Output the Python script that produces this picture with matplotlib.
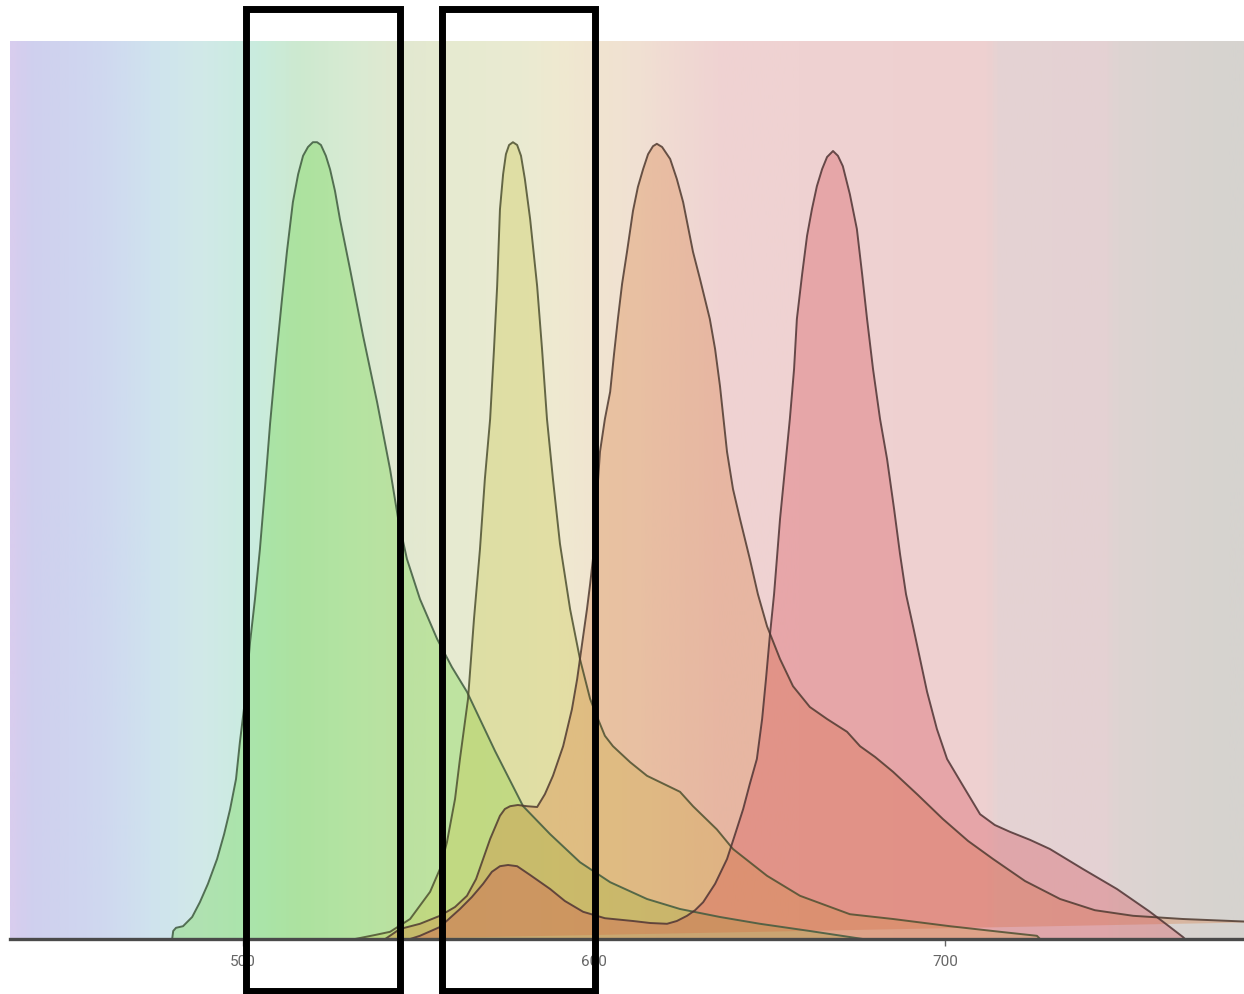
import numpy as np
import matplotlib
matplotlib.use("Agg")
import matplotlib.pyplot as plt
from matplotlib.colors import LinearSegmentedColormap
from matplotlib.patches import Rectangle
import matplotlib.transforms as mtransforms

# wavelength range (nm)
x_min, x_max = 433.6, 785.2
y_max = 112.25

# background spectrum colour stops
bg_nm = [433.6, 439.3, 459.3, 473.5, 487.7, 502.0, 516.2, 530.5, 544.7, 559.0,
         578.9, 590.3, 601.7, 613.1, 624.5, 635.9, 658.7, 712.8, 715.7, 747.0,
         749.9, 781.2, 785.2]
bg_col = ['#d8cdee', '#cfd0ee', '#cfd8f0', '#cfe3ee', '#d1e9e8', '#c9ecdf', '#cde9cf',
          '#d8ebd3', '#e2e8d0', '#e6ead0', '#eaebd2', '#efe9d0', '#f1e4d0', '#f0e0d3',
          '#f0d9d2', '#efd3d2', '#efd2d2', '#eed0d0', '#e5d3d3', '#e4d1d3', '#ded4d2',
          '#d6d3cf', '#d6d3cf']

# emission spectra (wavelength nm, relative intensity)
green_nm = [479.8, 480.1, 480.9, 482.9, 485.5, 487.7, 490.0, 492.6, 494.6, 496.3,
            498.0, 499.1, 500.6, 502.0, 503.4, 504.8, 506.3, 507.7, 509.4, 511.1,
            512.5, 514.2, 515.7, 517.1, 518.5, 519.9, 521.1, 522.2, 523.6, 524.8,
            526.2, 527.6, 530.5, 534.2, 538.2, 541.9, 544.2, 546.7, 550.4, 555.3,
            559.5, 563.8, 571.8, 579.8, 587.5, 596.0, 604.6, 615.1, 624.5, 635.9,
            647.3, 661.5, 676.6]
green_y = [0, 1.0, 1.4, 1.6, 2.75, 4.6, 6.9, 10.0, 13.1, 16.2,
           20.0, 24.6, 30.0, 37.1, 42.5, 48.7, 56.6, 64.4, 72.5, 80.0,
           85.9, 92.1, 95.6, 97.9, 99.0, 99.6, 99.6, 99.25, 97.9, 96.2,
           93.5, 90.0, 83.7, 75.4, 67.1, 58.7, 52.5, 47.5, 42.5, 37.5,
           34.0, 30.9, 23.5, 16.6, 13.1, 9.6, 7.1, 5.0, 3.75, 2.75,
           1.9, 1.0, 0]

yellow_nm = [531.9, 537.6, 541.9, 547.6, 553.3, 556.1, 558.1, 560.4, 561.8, 564.1,
             565.8, 567.5, 568.9, 570.4, 571.5, 572.4, 573.2, 574.1, 574.9, 575.8,
             576.9, 578.1, 579.2, 580.3, 581.8, 583.8, 585.2, 586.6, 588.3, 590.3,
             593.2, 596.0, 598.9, 600.9, 603.1, 605.4, 610.3, 615.1, 624.5, 628.2,
             635.0, 639.6, 649.3, 658.7, 672.9, 685.2, 701.4, 715.7, 726.2, 727.1]
yellow_y = [0, 0.5, 0.9, 2.5, 5.9, 8.75, 12.1, 17.5, 22.5, 30.0,
            40.0, 48.7, 57.5, 65.0, 73.7, 81.6, 91.2, 95.6, 98.1, 99.25,
            99.6, 99.25, 97.9, 95.0, 90.0, 81.6, 73.7, 65.0, 57.5, 49.4,
            41.2, 35.0, 30.0, 27.75, 25.4, 24.1, 22.1, 20.4, 18.4, 16.6,
            13.7, 11.25, 7.9, 5.4, 3.1, 2.5, 1.6, 0.9, 0.4, 0]

orange_nm = [540.5, 544.7, 550.4, 556.1, 560.4, 563.8, 566.4, 568.4, 570.4, 573.2,
             574.6, 576.1, 578.3, 580.9, 583.8, 586.0, 588.3, 591.2, 593.7, 595.2,
             596.6, 598.0, 598.9, 599.7, 600.6, 601.7, 603.1, 604.6, 605.7, 606.8,
             608.0, 609.4, 611.1, 612.5, 614.0, 615.4, 616.8, 617.9, 619.4, 621.7,
             623.6, 625.4, 628.2, 630.2, 633.0, 634.5, 635.9, 637.9, 639.6, 641.6,
             644.4, 646.7, 649.3, 653.0, 656.7, 661.5, 666.4, 672.1, 675.8, 680.1,
             685.2, 692.3, 699.4, 706.6, 713.7, 722.8, 732.8, 742.7, 753.6, 767.8,
             790.0]
orange_y = [0, 1.25, 1.9, 2.9, 4.0, 5.4, 7.5, 10.0, 12.5, 15.4,
            16.25, 16.6, 16.75, 16.6, 16.5, 18.1, 20.4, 24.1, 28.7, 32.5,
            36.9, 41.25, 44.4, 47.5, 53.75, 60.9, 65.0, 68.4, 73.1, 77.5,
            81.9, 85.9, 91.0, 94.0, 96.25, 98.1, 99.1, 99.4, 99.0, 97.5,
            95.0, 92.1, 85.9, 82.5, 77.5, 73.75, 69.1, 60.9, 56.25, 52.5,
            47.5, 43.1, 39.1, 35.0, 31.6, 29.0, 27.5, 25.9, 24.1, 22.75,
            20.9, 18.0, 15.0, 12.25, 10.0, 7.25, 5.0, 3.6, 2.9, 2.5,
            2.1]

red_nm = [547.6, 550.4, 556.1, 561.8, 565.2, 568.4, 570.9, 573.2, 575.5, 578.1,
          581.8, 587.5, 591.7, 596.9, 603.1, 611.1, 616.0, 620.8, 623.6, 626.5,
          628.8, 631.1, 634.5, 637.9, 640.2, 642.5, 644.4, 646.4, 647.9, 649.0,
          650.1, 651.3, 652.1, 653.0, 654.4, 655.8, 657.0, 657.8, 659.3, 660.7,
          662.1, 663.5, 665.0, 666.4, 668.1, 669.5, 670.9, 672.9, 674.9, 676.4,
          677.8, 679.5, 681.5, 683.5, 685.5, 687.2, 688.9, 690.9, 692.9, 694.9,
          697.7, 700.6, 704.8, 710.0, 714.2, 718.5, 724.2, 729.9, 739.3, 749.0,
          758.4, 764.1, 767.8, 768.4]
red_y = [0, 0.4, 1.5, 3.75, 5.25, 6.9, 8.4, 9.1, 9.25, 9.1,
         8.0, 6.25, 4.75, 3.4, 2.6, 2.25, 2.0, 1.9, 2.25, 2.9,
         3.6, 4.6, 6.9, 10.0, 13.1, 16.25, 19.4, 22.5, 27.5, 32.5,
         37.9, 43.1, 47.5, 52.5, 58.75, 65.0, 71.25, 77.5, 83.1, 87.9,
         91.25, 94.1, 96.25, 97.75, 98.5, 97.9, 96.6, 93.1, 88.75, 83.1,
         77.5, 71.25, 65.0, 60.0, 53.75, 48.1, 43.1, 39.1, 35.0, 30.9,
         26.25, 22.5, 19.4, 15.6, 14.25, 13.4, 12.4, 11.25, 8.75, 6.25,
         3.4, 1.5, 0.25, 0]

spectra = [
    (green_nm, green_y, '#63d432', '#3f5a3f'),
    (yellow_nm, yellow_y, '#c8c53f', '#4d5030'),
    (orange_nm, orange_y, '#d67635', '#4f3a30'),
    (red_nm, red_y, '#d6434c', '#4f3434'),
]

# filter windows (nm)
filters = [(500.9, 544.7), (556.7, 600.3)]

fig = plt.figure(figsize=(12.44, 9.95), dpi=100)
ax = fig.add_axes([10 / 1244, 55 / 995, 1234 / 1244, 898 / 995])

pos = [(v - bg_nm[0]) / (bg_nm[-1] - bg_nm[0]) for v in bg_nm]
cmap = LinearSegmentedColormap.from_list('spec', list(zip(pos, bg_col)))
grad = np.linspace(0, 1, 600).reshape(1, -1)
ax.imshow(grad, extent=[x_min, x_max, 0, y_max], aspect='auto', cmap=cmap,
          interpolation='bilinear', zorder=0)

for xs, ys, fc, ec in spectra:
    ax.fill(xs, ys, facecolor=fc, alpha=0.3, edgecolor='none', zorder=2)
    ax.plot(xs, ys, color=ec, lw=1.4, alpha=0.85, zorder=3,
            solid_joinstyle='round')

trans = mtransforms.blended_transform_factory(ax.transData, ax.transAxes)
for lo, hi in filters:
    ax.add_patch(Rectangle((lo, -0.058), hi - lo, 1.094, transform=trans,
                           fill=False, edgecolor='black', lw=5, clip_on=False,
                           zorder=10))

ax.set_xlim(x_min, x_max)
ax.set_ylim(0, y_max)
ax.set_xticks([500, 600, 700])
ax.set_yticks([])
for s in ['left', 'top', 'right']:
    ax.spines[s].set_visible(False)
ax.spines['bottom'].set_linewidth(2.4)
ax.spines['bottom'].set_color('#4a4a4a')
ax.spines['bottom'].set_zorder(5)
ax.tick_params(axis='x', length=5, width=1, color='#666666', labelcolor='#666666',
               labelsize=11, pad=6)
for lab in ax.get_xticklabels():
    lab.set_family('Roboto')

fig.savefig('out.png', dpi=100)
